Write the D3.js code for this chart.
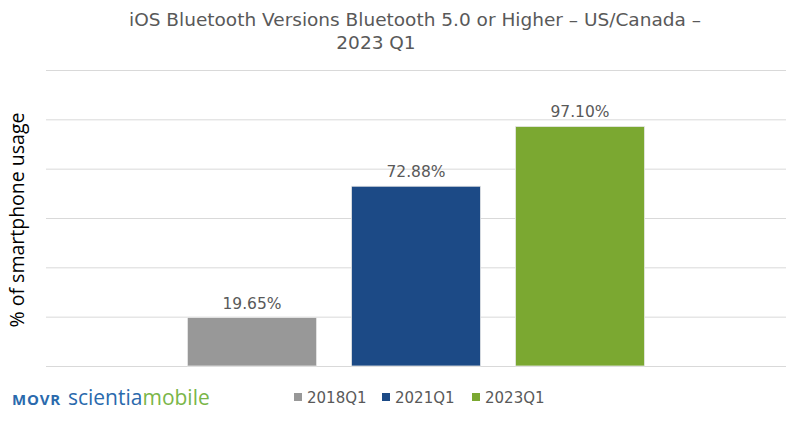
<!DOCTYPE html>
<html><head><meta charset="utf-8">
<script src="https://cdn.jsdelivr.net/npm/d3@7"></script>
<style>body{margin:0;background:#fff}svg{display:block}</style>
</head><body>
<div id="chart"></div>
<script>
const titleLines = ["iOS Bluetooth Versions Bluetooth 5.0 or Higher \u2013 US/Canada \u2013", "2023 Q1"];
const yAxisLabel = "% of smartphone usage";
const categories = [""];
const seriesNames = ["2018Q1", "2021Q1", "2023Q1"];
const seriesValues = [19.65, 72.88, 97.10];
const seriesColors = ["#989898", "#1c4a86", "#7ba831"];
const yTicks = [0, 20, 40, 60, 80, 100, 120];

const W = 800, H = 421;
const font = "DejaVu Sans, Verdana, sans-serif";
const svg = d3.select("#chart").append("svg").attr("width", W).attr("height", H);
const plot = {left: 46, right: 786, top: 70, bottom: 366};

const y = d3.scaleLinear().domain([0, 120]).range([plot.bottom, plot.top]);
const x0 = d3.scaleBand().domain(categories).range([plot.left, plot.right]).paddingOuter(0.17);
const gc = x0(categories[0]) + x0.bandwidth() / 2;
const x1 = d3.scaleBand().domain(seriesNames).range([gc - 246, gc + 246]).paddingInner(0.213).paddingOuter(0.1067);

// gridlines
const yAxis = d3.axisLeft(y).tickValues(yTicks).tickSize(-(plot.right - plot.left)).tickFormat("");
const ga = svg.append("g").attr("transform", `translate(${plot.left},0)`).call(yAxis);
ga.select(".domain").remove();
ga.selectAll(".tick line").attr("stroke", "#d9d9d9").attr("stroke-width", 1);

// bars
const data = seriesNames.map((s, i) => ({s, v: seriesValues[i], c: seriesColors[i]}));
svg.append("g").selectAll("rect").data(data).join("rect")
  .attr("x", d => x1(d.s)).attr("width", x1.bandwidth())
  .attr("y", d => y(d.v)).attr("height", d => y(0) - y(d.v))
  .attr("fill", d => d.c).attr("stroke", "#e8e8e8").attr("stroke-width", 0.8);

svg.append("g").selectAll("text").data(data).join("text")
  .attr("x", d => x1(d.s) + x1.bandwidth() / 2).attr("y", d => y(d.v) - 9)
  .attr("text-anchor", "middle").attr("font-family", font).attr("font-size", 15.5)
  .attr("fill", "#595959").text(d => d.v.toFixed(2) + "%");

// title
svg.append("text").attr("x", 415).attr("y", 26).attr("text-anchor", "middle")
  .attr("font-family", font).attr("font-size", 18.5).attr("fill", "#595959").text(titleLines[0]);
svg.append("text").attr("x", 376).attr("y", 49).attr("text-anchor", "middle")
  .attr("font-family", font).attr("font-size", 18.5).attr("fill", "#595959").text(titleLines[1]);

// y axis label
svg.append("text").attr("transform", "translate(24,220) rotate(-90)").attr("text-anchor", "middle")
  .attr("font-family", "Open Sans, sans-serif").attr("font-size", 19.5).attr("fill", "#000").text(yAxisLabel);

// legend
const legX = [294, 382, 472];
const lg = svg.append("g").selectAll("g").data(data).join("g")
  .attr("transform", (d, i) => `translate(${legX[i]},397)`);
lg.append("rect").attr("x", 0).attr("y", -4).attr("width", 8).attr("height", 8).attr("fill", d => d.c);
lg.append("text").attr("x", 13).attr("y", 5.5).attr("font-family", font).attr("font-size", 15)
  .attr("fill", "#595959").text(d => d.s);

// logo
const logo = svg.append("text").attr("x", 12).attr("y", 405).attr("font-family", "Open Sans, sans-serif");
logo.append("tspan").attr("font-size", 15).attr("font-weight", "bold").attr("letter-spacing", 0.8).attr("fill", "#2a6aad").text("MOVR");
logo.append("tspan").attr("dx", 7).attr("font-size", 21).attr("fill", "#2a6aad").text("scientia");
logo.append("tspan").attr("font-size", 21).attr("fill", "#7ab648").text("mobile");
</script>
</body></html>
